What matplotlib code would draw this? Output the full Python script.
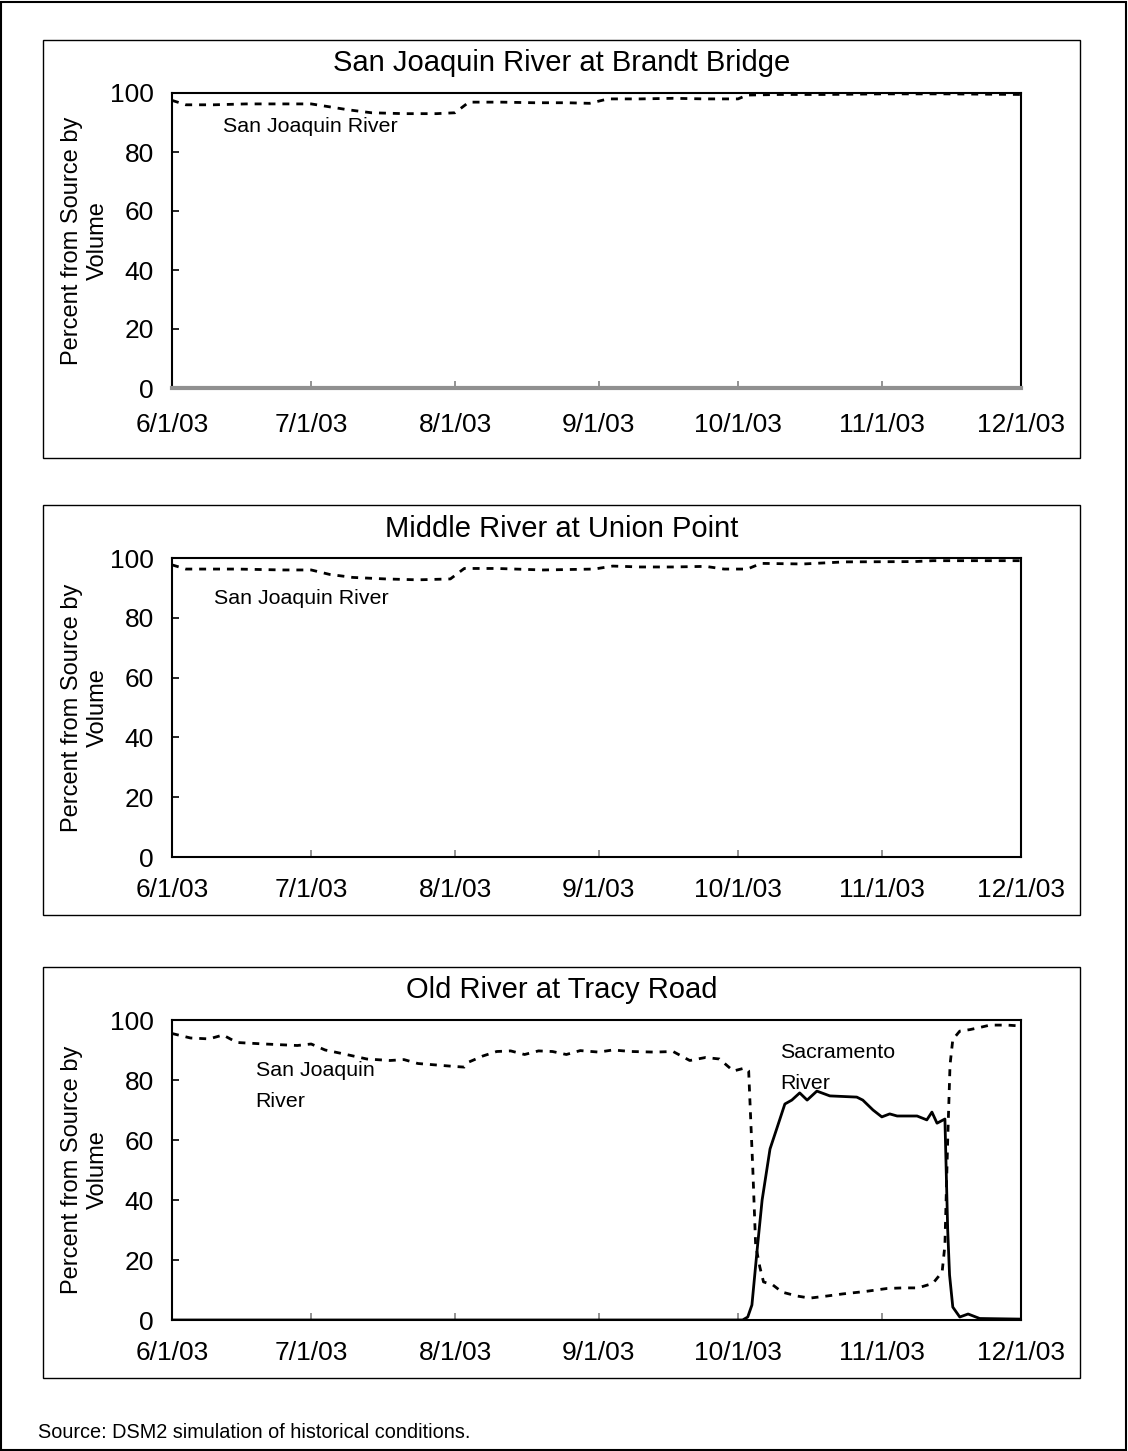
import datetime as dt
import matplotlib
matplotlib.use('Agg')
import matplotlib.pyplot as plt
from matplotlib.ticker import FixedFormatter
from matplotlib.patches import Rectangle

plt.rcParams['font.family'] = ['Liberation Sans', 'DejaVu Sans']

start = dt.datetime(2003, 6, 1)


def to_dates(offsets):
    return [start + dt.timedelta(days=d) for d in offsets]


# Brandt Bridge - San Joaquin River (days after 6/1/03, percent)
brandt_days = [0, 3, 9, 16, 23, 30, 34, 38, 43, 50, 57, 61, 64, 71, 78, 85, 90,
               94, 101, 108, 115, 122, 124, 131, 141, 153, 167, 183]
brandt_sjr = [97.5, 96, 96, 96.3, 96.3, 96.3, 95.3, 94.3, 93.3, 93, 93, 93.3, 96.9,
              96.9, 96.7, 96.7, 96.5, 98, 98, 98.2, 98, 98, 99.3, 99.5, 99.5, 99.7,
              99.7, 99.5]
brandt_other_days = [0, 183]
brandt_other = [0, 0]

# Union Point - San Joaquin River
union_days = [0, 3, 14, 24, 30, 34, 39, 46, 53, 60, 63, 70, 80, 91, 95, 101, 108,
              115, 119, 124, 127, 136, 145, 160, 164, 183]
union_sjr = [97.7, 96.3, 96.3, 96, 96, 94.5, 93.5, 93, 92.7, 93, 96.5, 96.5, 96,
             96.3, 97.3, 97, 97, 97.2, 96.3, 96.3, 98.2, 98, 98.7, 98.8, 99.1, 99.1]

# Tracy Road - San Joaquin River
tracy_sjr_days = [0, 4, 8, 11, 14, 20, 27, 30, 33, 37, 42, 47, 50, 53, 57, 61, 63,
                  64, 67, 70, 73, 76, 79, 82, 85, 88, 92, 95, 99, 104, 108, 111.6,
                  115, 118, 121, 123.5, 124.3, 125.2, 125.8, 126.7, 127.5, 129.5,
                  131.5, 134.7, 137.5, 141.2, 144.6, 149.4, 154.1, 157.5, 160.8,
                  164, 166, 166.6, 167.2, 167.7, 168.3, 169.8, 172, 174.1, 176.3,
                  180, 183]
tracy_sjr = [95.5, 94, 93.7, 95, 92.5, 92, 91.5, 92, 90, 88.7, 87, 86.5, 86.8,
             85.5, 85, 84.5, 84.3, 86, 88, 89.5, 89.7, 88.5, 89.7, 89.5, 88.5,
             89.8, 89.3, 90, 89.5, 89.3, 89.5, 86.5, 87.5, 87, 83, 84, 83, 50, 25,
             17.7, 12.7, 11.7, 9.3, 8, 7.3, 8, 8.7, 9.5, 10.5, 10.7, 10.7, 12.2,
             16, 25, 60, 85, 93.5, 96.3, 96.8, 97.5, 98.3, 98.3, 98]

# Tracy Road - Sacramento River
tracy_sac_days = [0, 123, 124.1, 125, 126.1, 127.2, 128.9, 130.4, 132.1, 133.6,
                  135.3, 136.9, 139, 141.8, 147.6, 148.9, 151.1, 153, 154.7,
                  156.3, 160.6, 162.7, 163.8, 164.9, 166.6, 167.2, 167.6, 168.3,
                  169.8, 171.6, 174.1, 183]
tracy_sac = [0, 0, 1, 5, 23, 40, 57, 64, 72, 73.3, 75.7, 73.3, 76.3, 74.7, 74.3,
             73.3, 70, 67.7, 68.7, 68, 68, 66.7, 69.3, 65.6, 67, 30, 15, 4.3, 1,
             2, 0.5, 0.3]

titles = ["San Joaquin River at Brandt Bridge", "Middle River at Union Point",
          "Old River at Tracy Road"]
month_ticks = [dt.datetime(2003, m, 1) for m in range(6, 13)]
month_labels = ['%d/1/03' % m for m in range(6, 13)]

W, H = 1128, 1451
fig = plt.figure(figsize=(W / 100, H / 100), dpi=100)

# pixel boxes: (axes top, axes bottom, panel top, panel bottom, title y, xlabel pad)
boxes = [(93, 388, 40, 458, 63, 18), (558, 857, 505, 915, 529, 15),
         (1020, 1320, 967, 1378, 990, 15)]
ax_left, ax_right = 172, 1021
pan_left, pan_right = 43, 1080

fig.patches.append(Rectangle((1 / W, 1 / H), 1 - 3 / W, 1 - 3 / H, transform=fig.transFigure,
                             fill=False, lw=1.5, ec='black'))

axes = []
for (at, ab, pt, pb, ty, xpad), title in zip(boxes, titles):
    fig.patches.append(Rectangle((pan_left / W, 1 - pb / H), (pan_right - pan_left) / W,
                                 (pb - pt) / H, transform=fig.transFigure,
                                 fill=False, lw=1.0, ec='black'))
    ax = fig.add_axes([ax_left / W, 1 - ab / H, (ax_right - ax_left) / W, (ab - at) / H])
    fig.text((pan_left + pan_right) / 2 / W, 1 - ty / H, title, fontsize=21,
             ha='center', va='center')
    ax.tick_params(axis='x', pad=xpad)
    axes.append(ax)

dash = (0, (2.5, 2.5))
axes[0].plot(to_dates(brandt_other_days), brandt_other, color='#909090', lw=3,
             clip_on=False, zorder=5)
axes[0].plot(to_dates(brandt_days), brandt_sjr, color='black', lw=2, ls=dash)
axes[1].plot(to_dates(union_days), union_sjr, color='black', lw=2, ls=dash)
axes[2].plot(to_dates(tracy_sjr_days), tracy_sjr, color='black', lw=2, ls=dash)
axes[2].plot(to_dates(tracy_sac_days), tracy_sac, color='black', lw=2)

for ax in axes:
    ax.set_xlim(month_ticks[0], month_ticks[-1])
    ax.set_ylim(0, 100)
    ax.set_yticks(range(0, 101, 20))
    ax.set_xticks(month_ticks)
    ax.xaxis.set_major_formatter(FixedFormatter(month_labels))
    ax.tick_params(axis='x', direction='in', length=5, width=1.2, color='#808080',
                   labelsize=19)
    ax.tick_params(axis='y', direction='in', length=5, width=1.2, labelsize=19, pad=13)
    for s in ax.spines.values():
        s.set_linewidth(1.5)
    ax.set_ylabel("Percent from Source by\nVolume", fontsize=17, labelpad=1,
                  linespacing=1.2)

ann = 15.4
axes[0].text(dt.datetime(2003, 6, 12), 88.5, "San Joaquin River", fontsize=ann, va='center')
axes[1].text(dt.datetime(2003, 6, 10), 86.5, "San Joaquin River", fontsize=ann, va='center')
axes[2].text(dt.datetime(2003, 6, 19), 78, "San Joaquin\nRiver", fontsize=ann,
             va='center', linespacing=1.85)
axes[2].text(dt.datetime(2003, 10, 10), 84, "Sacramento\nRiver", fontsize=ann,
             va='center', linespacing=1.85)

fig.text(38 / W, 1 - 1432 / H, "Source: DSM2 simulation of historical conditions.",
         fontsize=14.3, va='center')

fig.savefig('out.png', dpi=100)
